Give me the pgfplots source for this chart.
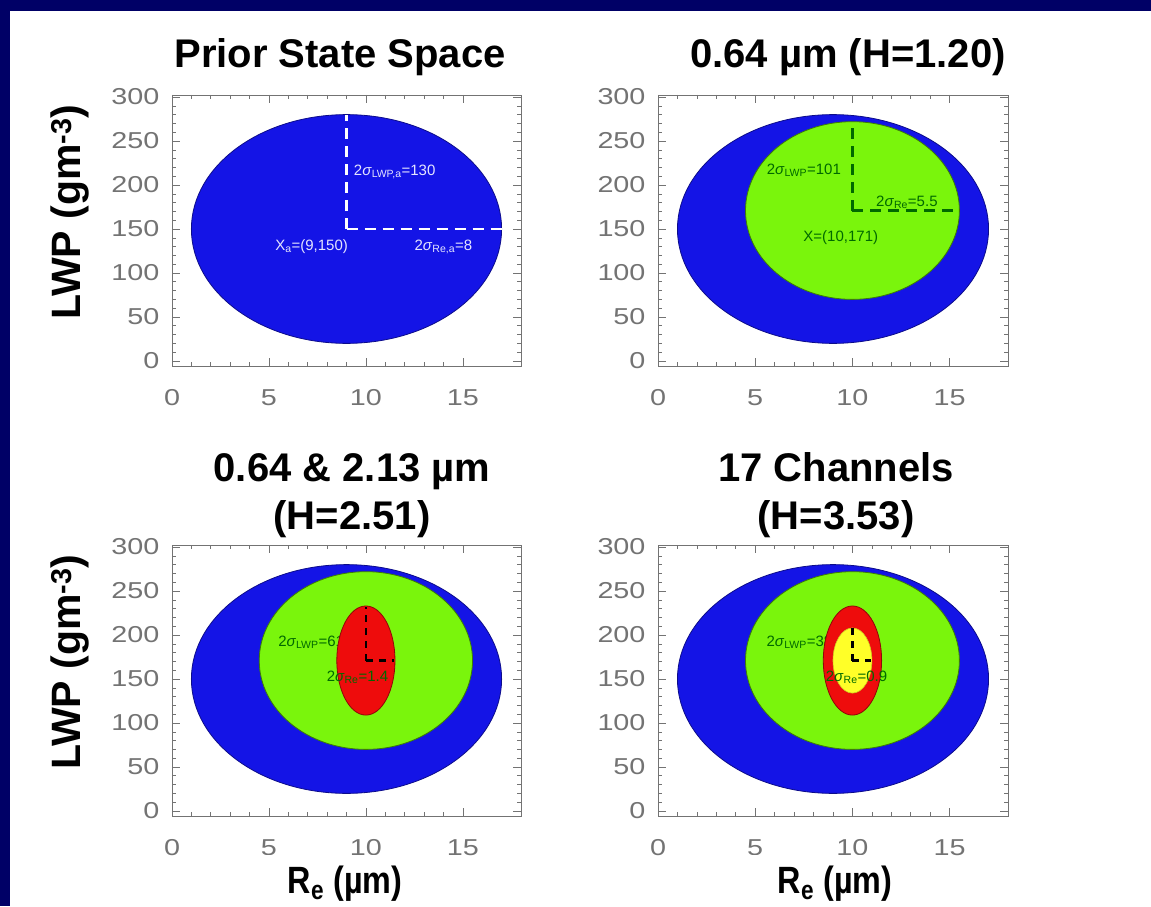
\documentclass[border=0pt]{standalone}
\usepackage{pgfplots}
\pgfplotsset{compat=1.18}
\usepackage{fontspec}
\setmainfont{Liberation Sans}
\newfontfamily\tickfont{Liberation Sans}[FakeStretch=1.25]
\newfontfamily\annfont{Liberation Sans}
\newfontfamily\condbold{Liberation Sans}[FakeStretch=0.85]
\definecolor{navy}{RGB}{0,0,102}
\definecolor{eblue}{RGB}{20,20,230}
\definecolor{egreen}{RGB}{122,245,12}
\definecolor{ered}{RGB}{238,12,12}
\definecolor{eyellow}{RGB}{255,255,40}
\definecolor{dgreen}{RGB}{0,105,0}
\definecolor{tickgray}{RGB}{115,115,115}
\pgfplotsset{ell/.style={
  scale only axis, height=271pt,
  xmin=0, xmax=18, ymin=-5.7, ymax=302.3,
  xtick={0,5,10,15}, xticklabels={0,5,10,15},
  ytick={0,50,100,150,200,250,300}, yticklabels={0,50,100,150,200,250,300},
  minor x tick num=4, minor y tick num=4,
  tick align=inside, major tick length=8pt, minor tick length=4pt,
  axis line style={tickgray, line width=0.9pt},
  every tick/.style={tickgray, line width=0.6pt},
  ticklabel style={font=\tickfont\fontsize{23}{23}\selectfont, text=tickgray},
  x tick label style={yshift=-20pt},
  y tick label style={xshift=-9pt},
  anchor=south west,
}}
\tikzset{dl/.style={line width=2.6pt, dash pattern=on 11pt off 7pt},
         ds/.style={line width=2.2pt, dash pattern=on 7pt off 6pt}}
\newcommand{\ann}{\annfont\fontsize{15}{15}\selectfont}
\begin{document}
\begin{tikzpicture}
\useasboundingbox (0pt,0pt) rectangle (1151pt,906pt);
\fill[navy] (0pt,0pt) rectangle (1151pt,906pt);
\fill[white] (10pt,0pt) rectangle (1151pt,895pt);

% Panel 1: prior
\begin{axis}[ell, width=349pt, at={(172pt,540pt)}]
\fill[eblue, draw=black!40!eblue, line width=0.8pt] (axis cs:9,150) ellipse [x radius=8, y radius=130];
\addplot[white, dl] coordinates {(9,150) (9,280)};
\addplot[white, dl] coordinates {(9,150) (17,150)};
\node[anchor=west, text=white!90!blue, font=\ann] at (axis cs:9.2,215) {2\textit{σ}\textsubscript{LWP,a}=130};
\node[text=white!90!blue, font=\ann] at (axis cs:7.2,130) {X\textsubscript{a}=(9,150)};
\node[text=white!90!blue, font=\ann] at (axis cs:14.0,130) {2\textit{σ}\textsubscript{Re,a}=8};
\end{axis}

% Panel 2: 0.64 um
\begin{axis}[ell, width=350pt, at={(658pt,540pt)}]
\fill[eblue, draw=black!40!eblue, line width=0.8pt] (axis cs:9,150) ellipse [x radius=8, y radius=130];
\fill[egreen, draw=black!50!egreen, line width=0.8pt] (axis cs:10,171) ellipse [x radius=5.5, y radius=101];
\addplot[dgreen, dl] coordinates {(10,171) (10,272)};
\addplot[dgreen, dl] coordinates {(10,171) (15.5,171)};
\node[text=dgreen, font=\ann] at (axis cs:7.5,217) {2\textit{σ}\textsubscript{LWP}=101};
\node[text=dgreen, font=\ann] at (axis cs:12.8,180) {2\textit{σ}\textsubscript{Re}=5.5};
\node[text=dgreen, font=\ann] at (axis cs:9.4,140) {X=(10,171)};
\end{axis}

% Panel 3: 0.64 & 2.13 um
\begin{axis}[ell, width=349pt, at={(172pt,90pt)}]
\fill[eblue, draw=black!40!eblue, line width=0.8pt] (axis cs:9,150) ellipse [x radius=8, y radius=130];
\fill[egreen, draw=black!50!egreen, line width=0.8pt] (axis cs:10,171) ellipse [x radius=5.5, y radius=101];
\node[anchor=west, text=dgreen, font=\ann] at (axis cs:5.3,192) {2\textit{σ}\textsubscript{LWP}=61};
\fill[ered, draw=black!40!ered, line width=0.8pt] (axis cs:10,171) ellipse [x radius=1.5, y radius=62];
\addplot[black, ds] coordinates {(10,171) (10,232)};
\addplot[black, ds] coordinates {(10,171) (11.45,171)};
\node[anchor=west, text=dgreen, font=\ann] at (axis cs:7.8,152) {2\textit{σ}\textsubscript{Re}=1.4};
\end{axis}

% Panel 4: 17 channels
\begin{axis}[ell, width=350pt, at={(658pt,90pt)}]
\fill[eblue, draw=black!40!eblue, line width=0.8pt] (axis cs:9,150) ellipse [x radius=8, y radius=130];
\fill[egreen, draw=black!50!egreen, line width=0.8pt] (axis cs:10,171) ellipse [x radius=5.5, y radius=101];
\node[anchor=west, text=dgreen, font=\ann] at (axis cs:5.4,192) {2\textit{σ}\textsubscript{LWP}=38};
\fill[ered, draw=black!40!ered, line width=0.8pt] (axis cs:10,171) ellipse [x radius=1.5, y radius=62];
\fill[eyellow, draw=black!20!eyellow, line width=0.6pt] (axis cs:10,171) ellipse [x radius=1.0, y radius=37];
\addplot[black, ds] coordinates {(10,171) (10,208)};
\addplot[black, ds] coordinates {(10,171) (10.95,171)};
\node[anchor=west, text=dgreen, font=\ann] at (axis cs:8.45,152) {2\textit{σ}\textsubscript{Re}=0.9};
\end{axis}

% Titles
\node[anchor=base, font=\bfseries\fontsize{40}{40}\selectfont] at (340pt,838pt) {Prior State Space};
\node[anchor=base, font=\bfseries\fontsize{40}{40}\selectfont] at (848pt,838pt) {0.64 µm (H=1.20)};
\node[anchor=base, font=\bfseries\fontsize{40}{40}\selectfont] at (352pt,424pt) {0.64 \& 2.13 µm};
\node[anchor=base, font=\bfseries\fontsize{40}{40}\selectfont] at (352pt,377pt) {(H=2.51)};
\node[anchor=base, font=\bfseries\fontsize{40}{40}\selectfont] at (836pt,424pt) {17 Channels};
\node[anchor=base, font=\bfseries\fontsize{40}{40}\selectfont] at (836pt,377pt) {(H=3.53)};
% Axis labels
\node[rotate=90, font=\bfseries\fontsize{41}{41}\selectfont] at (70pt,694pt) {LWP (gm\textsuperscript{-3})};
\node[rotate=90, font=\bfseries\fontsize{41}{41}\selectfont] at (70pt,244pt) {LWP (gm\textsuperscript{-3})};
\fill[white] (255pt,0pt) rectangle (440pt,51pt);
\fill[white] (745pt,0pt) rectangle (930pt,51pt);
\node[inner sep=1pt, font=\condbold\bfseries\fontsize{38}{38}\selectfont] at (345pt,22pt) {R\textsubscript{e} (µm)};
\node[inner sep=1pt, font=\condbold\bfseries\fontsize{38}{38}\selectfont] at (835pt,22pt) {R\textsubscript{e} (µm)};
\end{tikzpicture}
\end{document}
